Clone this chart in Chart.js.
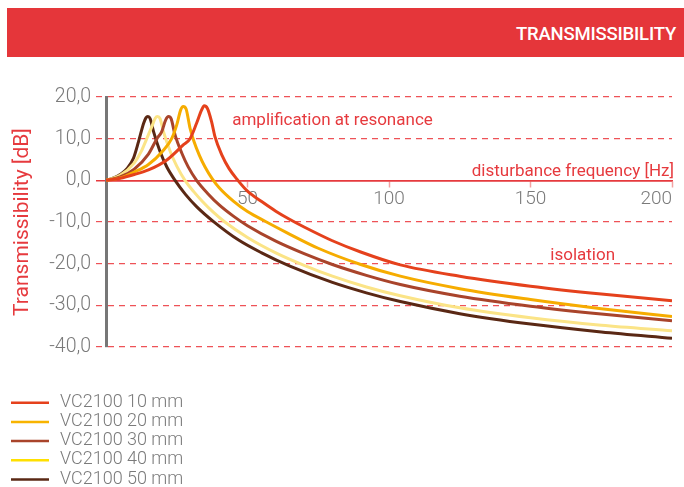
<!DOCTYPE html>
<html>
<head>
<meta charset="utf-8">
<script src="https://cdn.jsdelivr.net/npm/chart.js@4"></script>
<style>
  body { margin: 0; background: #fff; }
  #wrap { position: relative; width: 684px; height: 487px; }
  #faixa {
    position: absolute; left: 7px; top: 8px; width: 677px; height: 49px;
    background: #e5363a; color: #fff; box-sizing: border-box;
    font: 500 18.5px Roboto, sans-serif; letter-spacing: -0.2px;
    text-align: right; padding-right: 8px; line-height: 52px;
  }
  canvas { position: absolute; left: 0; top: 0; }
</style>
</head>
<body>
<div id="wrap">
  <canvas id="grafico" width="684" height="487"></canvas>
  <div id="faixa">TRANSMISSIBILITY</div>
</div>
<script>
// names of the series (legend)
const seriesNames = ['VC2100 10 mm', 'VC2100 20 mm', 'VC2100 30 mm', 'VC2100 40 mm', 'VC2100 50 mm'];

// frequency [Hz] and transmissibility [dB], one pair per series
const freq10 = [0, 5, 10, 15, 21.5, 27.3, 29.7, 32, 33.8, 34.7, 35.8, 37.3, 38.5, 41, 43.5, 46.6, 50, 55, 60, 65, 70, 80, 90, 104, 125, 150, 175, 200];
const db10   = [0, 0.5, 1.4, 2.5, 4.9, 8.5, 10, 13.7, 16.9, 17.9, 17.3, 14.1, 10.5, 6.0, 2.8, 0, -2.6, -5.1, -7.4, -9.4, -11.2, -14.5, -17.2, -20.3, -23.0, -25.4, -27.3, -28.9];

const freq20 = [0, 5, 10, 15, 20, 23.2, 25.0, 26.4, 27.3, 28.3, 29.7, 31, 33, 35, 37.5, 40, 45, 50, 56.7, 64, 75, 90, 104, 125, 150, 175, 200];
const db20   = [0, 0.6, 2.0, 3.8, 7.0, 10, 13.3, 16.9, 17.7, 17.1, 12.5, 9.5, 6.0, 3.2, 0.4, -1.8, -5.0, -7.5, -10.0, -12.6, -16.3, -20.2, -23.0, -26.0, -28.6, -30.8, -32.7];

const freq30 = [0, 5, 10, 15, 18, 19.7, 21.1, 22.1, 23.0, 24.4, 26.8, 29, 32, 36, 40, 45, 50, 60, 70, 80, 92, 104, 125, 150, 175, 200];
const db30   = [0, 0.8, 2.7, 6.3, 10, 11.7, 14.5, 15.3, 14.8, 10.9, 6.5, 3.3, 0, -3.2, -5.9, -8.6, -10.9, -14.6, -17.6, -20.2, -22.8, -25.0, -27.8, -30.2, -32.1, -33.7];

const freq40 = [0, 5, 10, 12.5, 14.4, 16.2, 17.4, 18.2, 19.1, 20.3, 22.7, 25, 27.9, 31, 34, 38, 42, 50, 60, 70, 80, 92, 104, 125, 150, 175, 200];
const db40   = [0, 1.2, 4.2, 7.0, 10, 12.9, 14.9, 15.3, 14.8, 11.7, 6.9, 3.4, 0, -2.7, -5.0, -7.7, -10, -13.7, -17.4, -20.4, -23.0, -25.6, -27.7, -30.6, -33.0, -34.8, -36.1];

const freq50 = [0, 2.7, 5, 7.4, 9.7, 11.5, 13.3, 14.1, 14.8, 15.6, 16.8, 19.1, 21.5, 24.4, 28, 32, 38, 47, 55, 65, 80, 92, 104, 125, 150, 175, 200];
const db50   = [0, 0.56, 1.4, 2.8, 5.3, 9.3, 13.7, 15.0, 15.3, 14.8, 11.7, 6.9, 3.2, 0, -3.3, -6.3, -9.9, -14.4, -17.4, -20.6, -24.5, -27.0, -29.1, -32.0, -34.5, -36.4, -37.9];

// tick labels
const xTicks = [50, 100, 150, 200];
const yTicks = [20, 10, 0, -10, -20, -30, -40];

const allFreq = [freq10, freq20, freq30, freq40, freq50];
const allDb = [db10, db20, db30, db40, db50];

// line colours on the chart and in the legend
const lineColors = ['#e5411c', '#f6ac00', '#a9442b', '#fbe487', '#5a2814'];
const legendColors = ['#e5411c', '#f8b400', '#a9442b', '#ffe000', '#5a2814'];

const red = '#e63a3e';
const gray = '#7a7a7a';

Chart.defaults.font.family = 'Roboto, sans-serif';

// texts written on the chart, in data units
const notes = [
  { text: 'amplification at resonance', x: 44.6, y: 13.3, align: 'left' },
  { text: 'disturbance frequency [Hz]', x: 200.7, y: 1.1, align: 'right' },
  { text: 'isolation', x: 157, y: -19, align: 'left' }
];

const notesPlugin = {
  id: 'notes',
  afterDraw(chart) {
    const { ctx, scales } = chart;
    ctx.save();
    ctx.fillStyle = red;
    ctx.font = '17px Roboto, sans-serif';
    ctx.textBaseline = 'alphabetic';
    notes.forEach(n => {
      ctx.textAlign = n.align;
      ctx.fillText(n.text, scales.x.getPixelForValue(n.x), scales.y.getPixelForValue(n.y));
    });
    ctx.restore();
  }
};

// legend in one column under the chart
const legendPlugin = {
  id: 'columnLegend',
  afterDraw(chart) {
    const ctx = chart.ctx;
    ctx.save();
    ctx.font = '300 18px Roboto, sans-serif';
    ctx.textBaseline = 'alphabetic';
    ctx.textAlign = 'left';
    chart.data.datasets.forEach((ds, i) => {
      const y = 402.7 + i * 19.2;
      ctx.strokeStyle = legendColors[i];
      ctx.lineWidth = 2.5;
      ctx.beginPath();
      ctx.moveTo(11, y);
      ctx.lineTo(49, y);
      ctx.stroke();
      ctx.fillStyle = gray;
      ctx.fillText(ds.label, 60, y + 4);
    });
    ctx.restore();
  }
};

const isZero = c => c.tick && c.tick.value === 0;

new Chart(document.getElementById('grafico'), {
  type: 'line',
  data: {
    datasets: seriesNames.map((name, i) => ({
      label: name,
      data: allFreq[i].map((f, k) => ({ x: f, y: allDb[i][k] })),
      borderColor: lineColors[i],
      borderWidth: 3,
      pointRadius: 0,
      fill: false,
      cubicInterpolationMode: 'monotone'
    }))
  },
  options: {
    responsive: false,
    animation: false,
    layout: { padding: { left: 0, top: 97, right: 12, bottom: 140 } },
    plugins: { legend: { display: false }, tooltip: { enabled: false } },
    scales: {
      x: {
        type: 'linear',
        min: 0,
        max: 200,
        position: { y: 0 },
        afterBuildTicks: s => { s.ticks = [0].concat(xTicks).map(v => ({ value: v })); },
        ticks: {
          callback: v => (v === 0 ? '' : String(v)),
          color: gray,
          font: { size: 19, weight: '300' },
          padding: 2,
          align: 'inner',
          maxRotation: 0,
          autoSkip: false
        },
        grid: {
          drawOnChartArea: false,
          tickLength: 6,
          tickWidth: 1.5,
          tickColor: c => (isZero(c) ? 'rgba(0,0,0,0)' : '#f3a2a2')
        },
        border: { color: red, width: 1.5 }
      },
      y: {
        min: -40,
        max: 20,
        afterBuildTicks: s => { s.ticks = yTicks.map(v => ({ value: v })); },
        afterFit: s => { s.width = 106; },
        ticks: {
          callback: v => v.toFixed(1).replace('.', ','),
          color: gray,
          font: { size: 19.5, weight: '300' },
          padding: 5
        },
        grid: {
          color: c => (isZero(c) ? red : '#ee5257'),
          lineWidth: c => (isZero(c) ? 1.5 : 1.2),
          tickLength: 10,
          tickColor: c => (isZero(c) ? red : '#ee5257'),
          tickBorderDash: c => (isZero(c) ? [] : [6, 5])
        },
        border: {
          color: '#777777',
          width: 3,
          dash: c => (isZero(c) ? [] : [6, 5])
        },
        title: {
          display: true,
          text: 'Transmissibility [dB]',
          color: red,
          font: { size: 21 },
          padding: { top: 10, bottom: 0 }
        }
      }
    }
  },
  plugins: [notesPlugin, legendPlugin]
});
</script>
</body>
</html>
